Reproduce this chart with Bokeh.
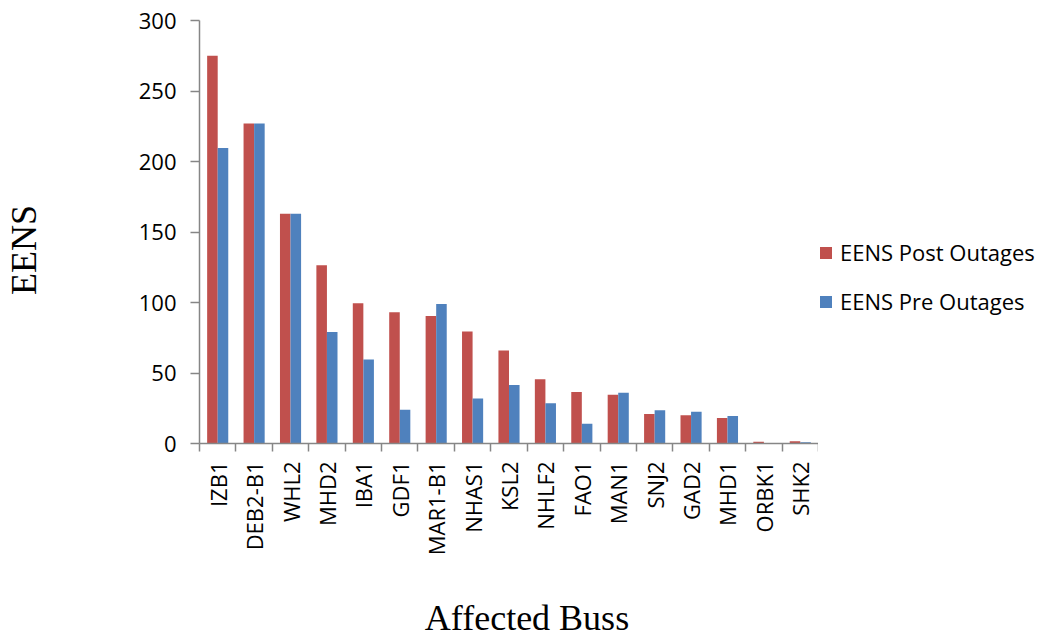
from math import pi
import numpy as np
from bokeh.plotting import figure
from bokeh.layouts import row
from bokeh.models import (ColumnDataSource, Range1d, FixedTicker, Legend, LegendItem)
from bokeh.transform import dodge
from bokeh.embed import file_html
from bokeh.resources import INLINE

buses = ["IZB1", "DEB2-B1", "WHL2", "MHD2", "IBA1", "GDF1", "MAR1-B1", "NHAS1", "KSL2",
         "NHLF2", "FAO1", "MAN1", "SNJ2", "GAD2", "MHD1", "ORBK1", "SHK2"]
eens_post = [275, 227, 163, 126.5, 99.5, 93, 90.5, 79.5, 66, 45.5, 36.5, 34.5, 21, 20, 18, 1.2, 1.6]
eens_pre = [209.5, 227, 163, 79, 59.5, 24, 99, 32, 41.5, 28.5, 14, 36, 23.5, 22.5, 19.5, 0.3, 0.9]
y_ticks = [0, 50, 100, 150, 200, 250, 300]
series_names = ["EENS Post Outages", "EENS Pre Outages"]
x_title = "Affected Buss"
y_title = "EENS"

RED = "#C0504D"
BLUE = "#4F81BD"
AXIS = "#868686"
SANS = "Open Sans"
SERIF = "Liberation Serif"
NBSP = "\u00a0"

n = len(buses)
slot = np.arange(n) + 0.5          # slot centre of each bus category
src = ColumnDataSource(dict(slot=slot, bus=buses, post=eens_post, pre=eens_pre))

# ---------------- main chart ----------------
p = figure(width=818, height=641, x_range=Range1d(0, n),
           y_range=Range1d(0, 300), output_backend="svg", toolbar_location=None,
           min_border_left=199, min_border_right=0,
           min_border_top=20, min_border_bottom=185)
p.outline_line_color = None
p.background_fill_color = "white"
p.border_fill_color = "white"
p.grid.visible = False

p.vbar(x=dodge("slot", -0.145), top="post", width=0.29,
       source=src, fill_color=RED, line_color=None)
p.vbar(x=dodge("slot", 0.145), top="pre", width=0.29,
       source=src, fill_color=BLUE, line_color=None)

# y axis
ya = p.yaxis[0]
ya.ticker = FixedTicker(ticks=y_ticks)
ya.axis_line_color = AXIS
ya.axis_line_width = 1.5
ya.major_tick_line_color = AXIS
ya.major_tick_line_width = 1.5
ya.major_tick_out = 9
ya.major_tick_in = 0
ya.minor_tick_line_color = None
ya.major_label_text_font = SANS
ya.major_label_text_font_size = "22px"
ya.major_label_text_color = "black"
ya.major_label_standoff = 14
ya.axis_label = y_title + NBSP * 4
ya.axis_label_text_font = SERIF
ya.axis_label_text_font_size = "36px"
ya.axis_label_text_font_style = "normal"
ya.axis_label_text_color = "black"
ya.axis_label_standoff = 92

# x axis: labels at slot centres, tick marks at slot boundaries
centers = [float(c) for c in slot]
bounds = [float(i) for i in range(n + 1)]
xa = p.xaxis[0]
xa.ticker = FixedTicker(ticks=centers, minor_ticks=bounds)
xa.major_label_overrides = {c: b for c, b in zip(centers, buses)}
xa.axis_line_color = AXIS
xa.axis_line_width = 1.5
xa.major_tick_line_color = None
xa.minor_tick_line_color = AXIS
xa.minor_tick_line_width = 1.5
xa.minor_tick_out = 8
xa.minor_tick_in = 0
xa.major_label_orientation = pi / 2
xa.major_label_text_font = SANS
xa.major_label_text_font_size = "22px"
xa.major_label_text_color = "black"
xa.major_label_standoff = 10
xa.axis_label = NBSP * 4 + x_title
xa.axis_label_text_font = SERIF
xa.axis_label_text_font_size = "36px"
xa.axis_label_text_font_style = "normal"
xa.axis_label_text_color = "black"
xa.axis_label_standoff = 40

# ---------------- legend panel ----------------
lp = figure(width=229, height=641, x_range=Range1d(0, n), y_range=Range1d(0, 300),
            output_backend="svg", toolbar_location=None,
            x_axis_location=None, y_axis_location=None,
            min_border_left=0, min_border_right=0, min_border_top=0, min_border_bottom=0)
lp.outline_line_color = None
lp.background_fill_color = "white"
lp.border_fill_color = "white"
lp.grid.visible = False
l_post = lp.vbar(x="slot", top="post", width=0.29, source=src,
                 fill_color=RED, line_color=None, visible=False)
l_pre = lp.vbar(x="slot", top="pre", width=0.29, source=src,
                fill_color=BLUE, line_color=None, visible=False)

legend = Legend(items=[LegendItem(label=series_names[0], renderers=[l_post]),
                       LegendItem(label=series_names[1], renderers=[l_pre])],
                location=(0, 127))
legend.border_line_color = None
legend.background_fill_alpha = 0
legend.inactive_fill_alpha = 0
legend.glyph_width = 15
legend.glyph_height = 15
legend.label_text_font = SANS
legend.label_text_font_size = "22px"
legend.label_text_color = "black"
legend.label_standoff = 7
legend.spacing = 19
legend.padding = 0
legend.margin = 0
lp.add_layout(legend)

layout = row(p, lp, spacing=0)
open("out.html", "w").write(file_html(layout, INLINE))
